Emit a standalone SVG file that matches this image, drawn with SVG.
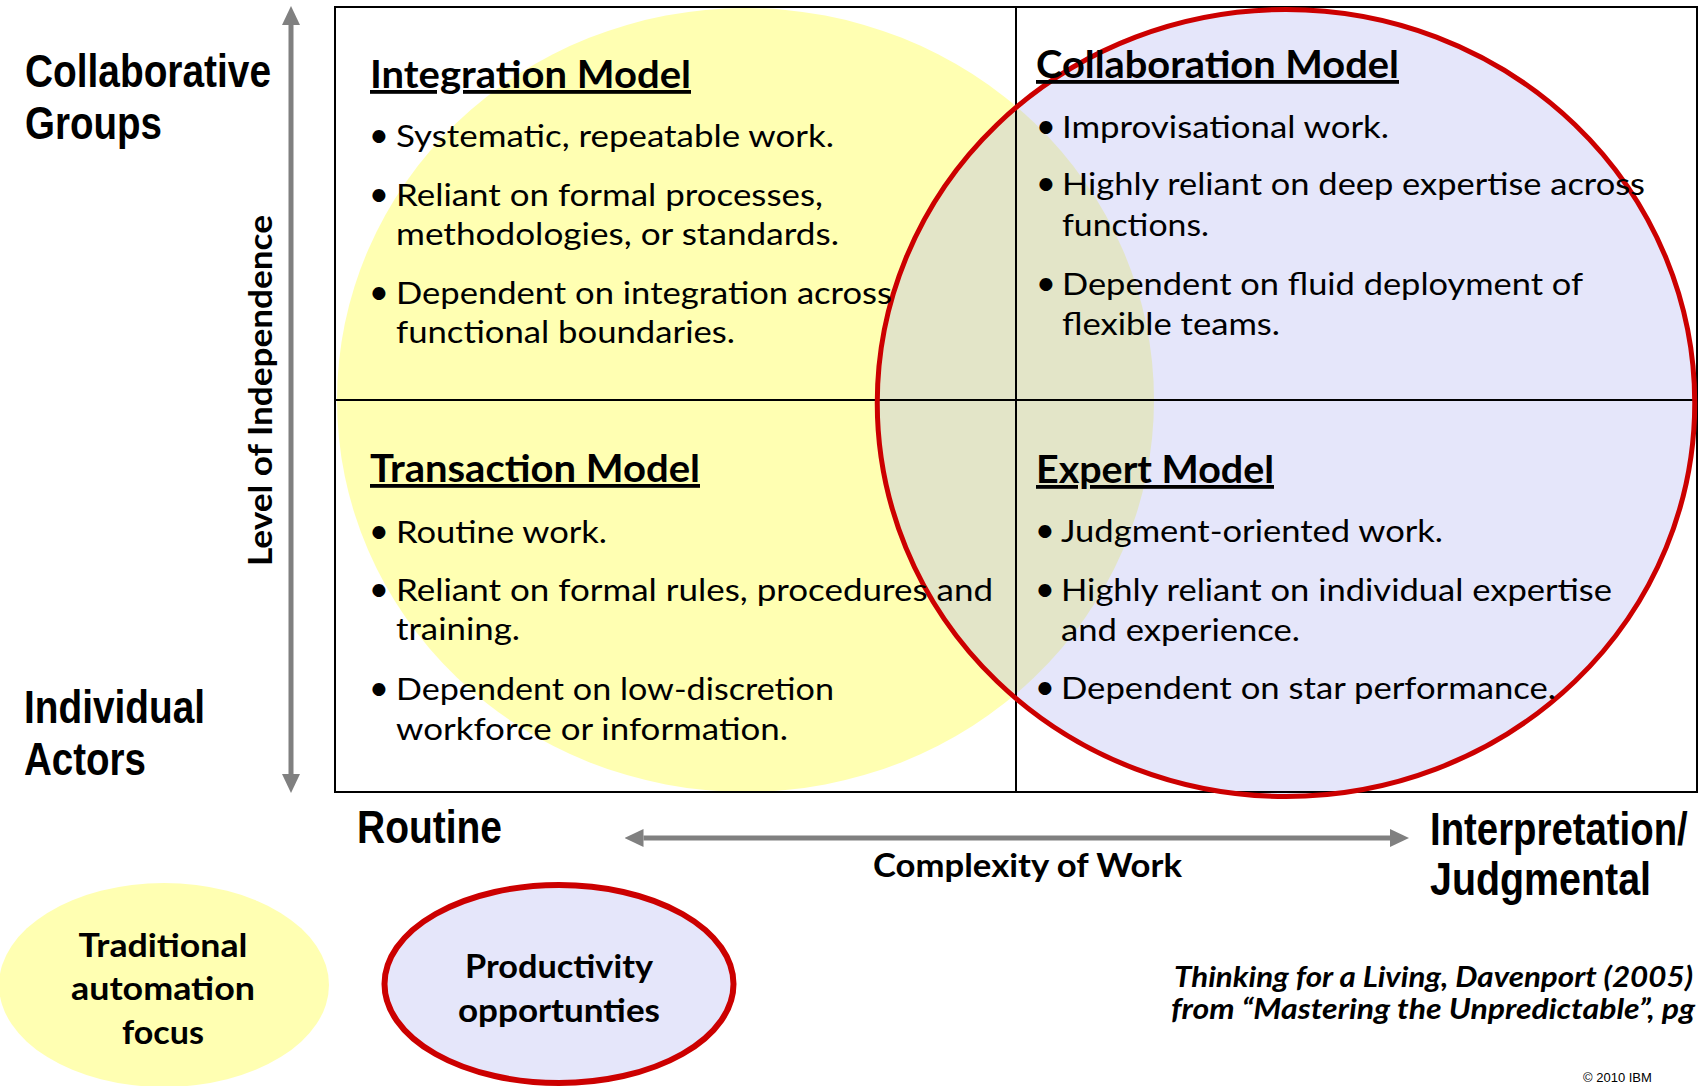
<svg xmlns="http://www.w3.org/2000/svg" width="1699" height="1086" viewBox="0 0 1699 1086">
<style>
.lbl{font-family:"Liberation Sans Narrow","Liberation Sans",Arial,sans-serif;font-weight:bold;font-size:47px;fill:#000}
.ttl{font-family:Lato,"Open Sans",sans-serif;font-weight:bold;font-size:38px;fill:#000;text-decoration:underline}
.body{font-family:Lato,"Open Sans",sans-serif;font-size:31px;fill:#000}
.bul{font-family:Lato,"Open Sans",sans-serif;font-size:35px;fill:#000;text-anchor:middle}
.sub{font-family:Lato,"Open Sans",sans-serif;font-weight:bold;font-size:33px;fill:#000}
.mid{text-anchor:middle}
.cite{font-family:Lato,"Open Sans",sans-serif;font-weight:bold;font-style:italic;font-size:29px;fill:#000}
.copy{font-family:"Liberation Sans",Arial,sans-serif;font-size:13px;fill:#000}
.yel{fill:#FFFFB2}
.lav{fill:#E5E6FA}
.ovl{fill:#E3E5C8}
.red{fill:none;stroke:#CC0000;stroke-width:5}
.grid{fill:none;stroke:#000;stroke-width:2}
.axis{stroke:#808080;stroke-width:5;fill:none;marker-start:url(#ah);marker-end:url(#ah)}
</style>
<defs>
<marker id="ah" viewBox="0 -9 19 18" refX="0" refY="0" markerWidth="19" markerHeight="18" markerUnits="userSpaceOnUse" orient="auto-start-reverse">
<path d="M0,-9 L19,0 L0,9 z" fill="#808080"/>
</marker>
<clipPath id="bigRed"><ellipse cx="1286" cy="403" rx="408.75" ry="393.5"/></clipPath>
</defs>
<rect width="1699" height="1086" fill="#fff"/>

<g id="matrix-background">
<ellipse class="yel" cx="745.5" cy="400" rx="408.5" ry="392"/>
<ellipse class="lav" cx="1286" cy="403" rx="408.75" ry="393.5"/>
<ellipse class="ovl" cx="745.5" cy="400" rx="408.5" ry="392" clip-path="url(#bigRed)"/>
</g>

<g id="matrix-grid">
<rect class="grid" x="335" y="7" width="1362" height="785"/>
<line class="grid" x1="1016" y1="7" x2="1016" y2="792"/>
<line class="grid" x1="335" y1="400" x2="1697" y2="400"/>
</g>

<g id="red-outline">
<ellipse class="red" cx="1286" cy="403" rx="408.75" ry="393.5"/>
</g>

<g id="connectors">
<line id="axis-vertical" class="axis" x1="291" y1="25" x2="291" y2="774"/>
<line id="axis-horizontal" class="axis" x1="643.5" y1="838" x2="1390" y2="838"/>
</g>

<g id="q-integration">
<text class="ttl" x="370" y="88" textLength="321" lengthAdjust="spacingAndGlyphs">Integration Model</text>
<text class="bul" x="379" y="147">•</text>
<text class="body" x="396" y="147" textLength="438" lengthAdjust="spacingAndGlyphs">Systematic, repeatable work.</text>
<text class="bul" x="379" y="206">•</text>
<text class="body" x="396" y="206" textLength="427" lengthAdjust="spacingAndGlyphs">Reliant on formal processes,</text>
<text class="body" x="396" y="245" textLength="443" lengthAdjust="spacingAndGlyphs">methodologies, or standards.</text>
<text class="bul" x="379" y="304">•</text>
<text class="body" x="396" y="304" textLength="496" lengthAdjust="spacingAndGlyphs">Dependent on integration across</text>
<text class="body" x="396" y="343" textLength="339" lengthAdjust="spacingAndGlyphs">functional boundaries.</text>
</g>

<g id="q-collaboration">
<text class="ttl" x="1036" y="78" textLength="363" lengthAdjust="spacingAndGlyphs">Collaboration Model</text>
<text class="bul" x="1046" y="138">•</text>
<text class="body" x="1062" y="138" textLength="327" lengthAdjust="spacingAndGlyphs">Improvisational work.</text>
<text class="bul" x="1046" y="195">•</text>
<text class="body" x="1062" y="195" textLength="583" lengthAdjust="spacingAndGlyphs">Highly reliant on deep expertise across</text>
<text class="body" x="1062" y="236" textLength="147" lengthAdjust="spacingAndGlyphs">functions.</text>
<text class="bul" x="1046" y="295">•</text>
<text class="body" x="1062" y="295" textLength="521" lengthAdjust="spacingAndGlyphs">Dependent on fluid deployment of</text>
<text class="body" x="1062" y="335" textLength="218" lengthAdjust="spacingAndGlyphs">flexible teams.</text>
</g>

<g id="q-transaction">
<text class="ttl" x="370" y="482" textLength="330" lengthAdjust="spacingAndGlyphs">Transaction Model</text>
<text class="bul" x="379" y="543">•</text>
<text class="body" x="396" y="543" textLength="211" lengthAdjust="spacingAndGlyphs">Routine work.</text>
<text class="bul" x="379" y="601">•</text>
<text class="body" x="396" y="601" textLength="597" lengthAdjust="spacingAndGlyphs">Reliant on formal rules, procedures and</text>
<text class="body" x="396" y="640" textLength="124" lengthAdjust="spacingAndGlyphs">training.</text>
<text class="bul" x="379" y="700">•</text>
<text class="body" x="396" y="700" textLength="438" lengthAdjust="spacingAndGlyphs">Dependent on low-discretion</text>
<text class="body" x="396" y="740" textLength="392" lengthAdjust="spacingAndGlyphs">workforce or information.</text>
</g>

<g id="q-expert">
<text class="ttl" x="1036" y="483" textLength="238" lengthAdjust="spacingAndGlyphs">Expert Model</text>
<text class="bul" x="1045" y="542">•</text>
<text class="body" x="1061" y="542" textLength="382" lengthAdjust="spacingAndGlyphs">Judgment-oriented work.</text>
<text class="bul" x="1045" y="601">•</text>
<text class="body" x="1061" y="601" textLength="551" lengthAdjust="spacingAndGlyphs">Highly reliant on individual expertise</text>
<text class="body" x="1061" y="641" textLength="239" lengthAdjust="spacingAndGlyphs">and experience.</text>
<text class="bul" x="1045" y="699">•</text>
<text class="body" x="1061" y="699" textLength="495" lengthAdjust="spacingAndGlyphs">Dependent on star performance.</text>
</g>

<g id="label-collaborative-groups">
<text class="lbl" x="25" y="87" textLength="246" lengthAdjust="spacingAndGlyphs">Collaborative</text>
<text class="lbl" x="25" y="139" textLength="137" lengthAdjust="spacingAndGlyphs">Groups</text>
</g>
<g id="label-individual-actors">
<text class="lbl" x="24" y="723" textLength="181" lengthAdjust="spacingAndGlyphs">Individual</text>
<text class="lbl" x="24" y="775" textLength="122" lengthAdjust="spacingAndGlyphs">Actors</text>
</g>
<g id="label-independence">
<text class="sub" transform="translate(272,566) rotate(-90)" x="0" y="0" textLength="351" lengthAdjust="spacingAndGlyphs">Level of Independence</text>
</g>
<g id="label-routine">
<text class="lbl" x="357" y="843" textLength="145" lengthAdjust="spacingAndGlyphs">Routine</text>
</g>
<g id="label-interpretation">
<text class="lbl" transform="translate(1430,845) scale(0.816,1)" x="0" y="0">Interpretation/</text>
<text class="lbl" x="1430" y="895" textLength="221" lengthAdjust="spacingAndGlyphs">Judgmental</text>
</g>
<g id="label-complexity">
<text class="sub" x="873" y="877" textLength="309" lengthAdjust="spacingAndGlyphs">Complexity of Work</text>
</g>

<g id="legend-traditional">
<ellipse class="yel" cx="164" cy="985" rx="165" ry="102"/>
<text class="sub mid" x="163" y="957" textLength="169" lengthAdjust="spacingAndGlyphs">Traditional</text>
<text class="sub mid" x="163" y="1000" textLength="184" lengthAdjust="spacingAndGlyphs">automation</text>
<text class="sub mid" x="163" y="1044" textLength="82" lengthAdjust="spacingAndGlyphs">focus</text>
</g>
<g id="legend-productivity">
<ellipse class="lav" cx="559" cy="984" rx="174.5" ry="99" stroke="#CC0000" stroke-width="6"/>
<text class="sub mid" x="559" y="978" textLength="188" lengthAdjust="spacingAndGlyphs">Productivity</text>
<text class="sub mid" x="559" y="1022" textLength="202" lengthAdjust="spacingAndGlyphs">opportunties</text>
</g>

<g id="citation">
<text class="cite" x="1174" y="987" textLength="519" lengthAdjust="spacingAndGlyphs">Thinking for a Living, Davenport (2005)</text>
<text class="cite" x="1171" y="1019" textLength="524" lengthAdjust="spacingAndGlyphs">from “Mastering the Unpredictable”, pg</text>
<text class="copy" x="1583" y="1082">© 2010 IBM</text>
</g>
</svg>
